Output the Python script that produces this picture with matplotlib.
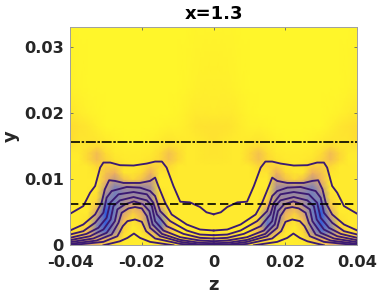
import numpy as np
import matplotlib
matplotlib.use('Agg')
import matplotlib.pyplot as plt
from matplotlib.colors import LinearSegmentedColormap

# Field, right half only (the chart is mirrored about z=0)
field_z = [0, .0025, .005, .0075, .01, .0125, .015, .0175, .02, .0225, .025, .0275, .03, .0325, .035, .0375, .04]
field_y = [0, .001, .002, .003, .004, .005, .006, .007, .008, .009, .010, .011, .012, .013, .014, .015, .016, .018, .020, .024, .033]
field = [
    [.40, .40, .40, .28, .14, .08, .08, .04, .04, .04, .04, .08, .14, .28, .40, .45, .45],
    [.18, .18, .18, .12, .10, .12, .18, .06, .04, .04, .06, .22, .32, .32, .28, .28, .28],
    [.05, .05, .05, .05, .06, .25, .50, .25, .06, .04, .12, .50, .75, .60, .30, .10, .10],
    [.05, .05, .05, .05, .05, .25, .80, .50, .12, .05, .18, .55, .95, .62, .15, .05, .05],
    [.05, .05, .05, .05, .05, .14, .70, .60, .25, .08, .28, .62, .95, .48, .08, .05, .05],
    [.05, .05, .05, .05, .05, .08, .50, .65, .32, .18, .38, .68, 1.0, .35, .05, .05, .05],
    [.05, .05, .05, .05, .05, .05, .28, .60, .42, .32, .48, .68, .85, .22, .05, .05, .05],
    [.05, .05, .05, .05, .05, .05, .14, .52, .52, .48, .52, .68, .62, .12, .05, .05, .05],
    [.05, .05, .05, .05, .05, .05, .08, .52, .58, .58, .58, .68, .48, .08, .05, .05, .05],
    [.05, .05, .05, .05, .05, .05, .05, .48, .52, .48, .52, .62, .38, .05, .05, .05, .05],
    [.05, .05, .05, .05, .05, .05, .05, .38, .22, .12, .22, .42, .28, .05, .05, .05, .05],
    [.05, .05, .05, .05, .05, .07, .07, .30, .12, .07, .07, .30, .22, .07, .05, .05, .05],
    [.05, .05, .05, .05, .05, .12, .12, .16, .07, .05, .07, .16, .16, .12, .05, .05, .05],
    [.06, .06, .05, .05, .12, .22, .12, .07, .05, .04, .05, .07, .14, .24, .12, .04, .04],
    [.07, .06, .05, .05, .12, .22, .10, .05, .04, .04, .04, .05, .10, .24, .12, .05, .05],
    [.07, .06, .05, .05, .08, .11, .06, .04, .03, .03, .03, .04, .06, .11, .07, .06, .08],
    [.08, .06, .05, .04, .05, .06, .04, .02, .01, .01, .01, .02, .04, .06, .07, .07, .10],
    [.08, .08, .07, .04, .02, .02, .01, 0, 0, 0, 0, 0, 0, .03, .06, .08, .10],
    [.04, .05, .05, .03, .01, 0, 0, 0, 0, 0, 0, 0, 0, .01, .02, .04, .06],
    [.03, .03, .02, .01, 0, 0, 0, 0, 0, 0, 0, 0, 0, 0, 0, .01, .02],
    [.01, .01, .01, 0, 0, 0, 0, 0, 0, 0, 0, 0, 0, 0, 0, 0, .01],
]

# Contours, left half, z<=0
contours = [
    ([-.04, -.0363, -.0344, -.0330, -.0316, -.0307, -.0288, -.0261, -.0223, -.0186, -.0163, -.0144, -.0131, -.0112, -.0093, -.0066, -.0038, -.002, 0],
     [.00477, .00594, .00797, .00898, .01177, .01253, .01253, .01213, .01208, .01238, .01268, .01268, .01177, .00898, .0066, .0065, .0058, .0050, .0047]),
    ([-.04, -.0363, -.0330, -.0312, -.0303, -.0291, -.0275, -.0251, -.0205, -.0177, -.0163, -.0154, -.0135, -.0117, -.0075, -.0038, 0],
     [.00224, .00315, .00467, .00645, .00848, .00985, .00975, .00944, .00944, .00975, .01025, .00898, .00645, .00467, .00315, .00239, .00224]),
    ([-.04, -.0363, -.0330, -.0307, -.0298, -.0284, -.0242, -.0205, -.0177, -.0163, -.0149, -.0121, -.0075, -.0038, 0],
     [.00163, .00214, .00341, .00493, .00721, .00822, .00883, .00873, .00822, .00746, .00518, .00366, .00224, .00163, .00153]),
    ([-.04, -.0354, -.0321, -.0298, -.0288, -.0265, -.0223, -.0186, -.0168, -.0158, -.0131, -.0084, -.0038, 0],
     [.00113, .00173, .00265, .00417, .00645, .00772, .00807, .00772, .00645, .00467, .0029, .00173, .00113, .00103]),
    ([-.04, -.0344, -.0307, -.0287, -.0279, -.0261, -.0223, -.0186, -.0172, -.0163, -.014, -.0093, -.0038, 0],
     [.00077, .00138, .00239, .00391, .00594, .0068, .00731, .0068, .00594, .00366, .00224, .00123, .00072, .00062]),
    ([-.04, -.0335, -.0298, -.0275, -.0268, -.0247, -.0222, -.0196, -.0179, -.017, -.0144, -.0093, -.0038, 0],
     [.00047, .00103, .00189, .00366, .00544, .0062, .00665, .0062, .00518, .00315, .00173, .00082, .00037, .00032]),
    ([-.04, -.0326, -.0284, -.0265, -.0256, -.0237, -.0219, -.02, -.0186, -.0177, -.0149, -.0093, -.0038, 0],
     [.00021, .00072, .00163, .00341, .00493, .00559, .00579, .00559, .00442, .00265, .00138, .00052, .00011, .00006]),
    ([-.04, -.0307, -.0268, -.0253, -.024, -.0219, -.02, -.0188, -.0163, -.0093, -.0038],
     [.00001, .00052, .00138, .0029, .00366, .00391, .00356, .00214, .00103, .00021, 0]),
    ([-.0307, -.0261, -.024, -.0222, -.0205, -.0177, -.0112],
     [0, .00061, .00112, .00178, .00112, .00052, 0]),
]

upper_y = .01568
lower_y = .00629
xticks = [-.04, -.02, 0, .02, .04]
xticklabels = ['-0.04', '-0.02', '0', '0.02', '0.04']
yticks = [0, .01, .02, .03]
yticklabels = ['0', '0.01', '0.02', '0.03']

plt.rcParams['font.family'] = 'DejaVu Sans'
plt.rcParams['font.weight'] = 'bold'

cmap = LinearSegmentedColormap.from_list('field', [
    (0, '#fff62a'), (.1, '#fedc32'), (.3, '#eeb060'), (.5, '#a88c98'),
    (.7, '#6f7fc0'), (1, '#2a58e0')])

fig = plt.figure(figsize=(3.89, 2.94), dpi=100)
ax = fig.add_axes([70 / 389, 1 - 245.3 / 294, 287.3 / 389, 218.6 / 294])

half = np.array(field)
fz = np.array(field_z)
full = np.hstack([half[:, :0:-1], half])
zz = np.concatenate([-fz[:0:-1], fz])
ax.pcolormesh(zz, field_y, full, cmap=cmap, vmin=0, vmax=1, shading='gouraud')

for cz, cy in contours:
    cz = np.array(cz)
    ax.plot(cz, cy, color='#3b1a72', lw=1.35, solid_joinstyle='round')
    ax.plot(-cz, cy, color='#3b1a72', lw=1.35, solid_joinstyle='round')

ax.axhline(upper_y, color='k', lw=1.2, ls=(0, (6, 1, 1.5, 1)))
ax.axhline(lower_y, color='k', lw=1.2, ls=(0, (5, 2.5)))

ax.set_xlim(-.04, .04)
ax.set_ylim(0, .0331)
ax.set_xticks(xticks)
ax.set_xticklabels(xticklabels)
ax.set_yticks(yticks)
ax.set_yticklabels(yticklabels)
ax.tick_params(direction='in', top=True, right=True, length=2.5, width=.6, color='#666666',
               labelsize=11.7, labelcolor='#262626')
ax.tick_params(axis='x', pad=7)
ax.tick_params(axis='y', pad=4.5)
for s in ax.spines.values():
    s.set_color('#a0a0a0')
    s.set_linewidth(.7)

ax.set_xlabel('z', fontsize=13, fontweight='bold', color='#262626', labelpad=4)
ax.set_ylabel('y', fontsize=13, fontweight='bold', color='#262626', labelpad=3)
ax.set_title('x=1.3', fontsize=13, fontweight='bold', color='k', pad=5.5)

fig.savefig('out.png', dpi=100)
